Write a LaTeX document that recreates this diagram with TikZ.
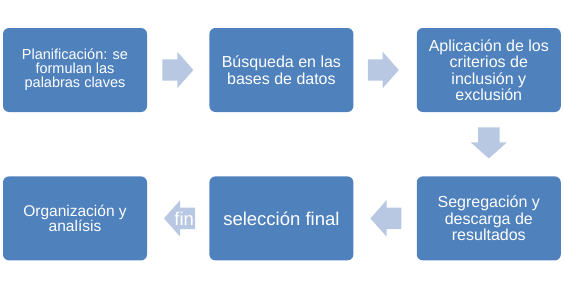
\documentclass[tikz,border=0pt]{standalone}
\usepackage{fontspec}
\setmainfont{Liberation Sans}
\usepackage{tikz}
\usetikzlibrary{positioning,shapes.arrows}
\definecolor{boxblue}{RGB}{79,129,189}
\definecolor{arrblue}{RGB}{185,200,226}
\tikzset{
  stepbox/.style={rectangle,rounded corners=6pt,fill=boxblue,text=white,align=center,
    minimum width=144pt,minimum height=84pt,inner sep=0pt},
  blockarr/.style={single arrow,fill=arrblue,draw=none,text=white,inner sep=0pt,
    text height=17.25pt,text depth=3.75pt,minimum height=31pt,
    single arrow head extend=7.5pt,single arrow tip angle=97},
  mtxt/.style={font=\fontsize{16}{16.5}\selectfont},
  stxt/.style={font=\fontsize{14.5}{14}\selectfont},
  btxt/.style={font=\fontsize{18.5}{20}\selectfont}
}

\begin{document}
\begin{tikzpicture}[x=1pt,y=-1pt]
  \useasboundingbox (0,0) rectangle (564,289);
  % top row
  \node[stepbox,stxt] (plan) at (75,70) {Planificación: se\\formulan las\\palabras claves};
  \node[stepbox,mtxt,right=62pt of plan] (busq) {Búsqueda en las\\bases de datos};
  \node[stepbox,mtxt,right=63pt of busq] (crit) {Aplicación de los\\criterios de\\inclusión y\\exclusión};
  % bottom row
  \node[stepbox,mtxt,below=64pt of crit] (seg) {Segregación y\\descarga de\\resultados};
  \node[stepbox,btxt,left=63pt of seg] (sel) {selección final};
  \node[stepbox,font=\fontsize{15.5}{15}\selectfont,left=62pt of sel] (org) {Organización y\\analísis};
  % block arrows
  \node[blockarr,right=15pt of plan,anchor=tail] (a12) {};
  \node[blockarr,right=14pt of busq,anchor=tail] (a23) {};
  \node[blockarr,rotate=-90,below=15pt of crit,anchor=tail] (a34) {};
  \node[blockarr,shape border rotate=180,left=15pt of seg,anchor=tail] (a45) {};
  \node[blockarr,btxt,shape border rotate=180,left=14pt of sel,anchor=tail] (a56) {fin};
\end{tikzpicture}
\end{document}
